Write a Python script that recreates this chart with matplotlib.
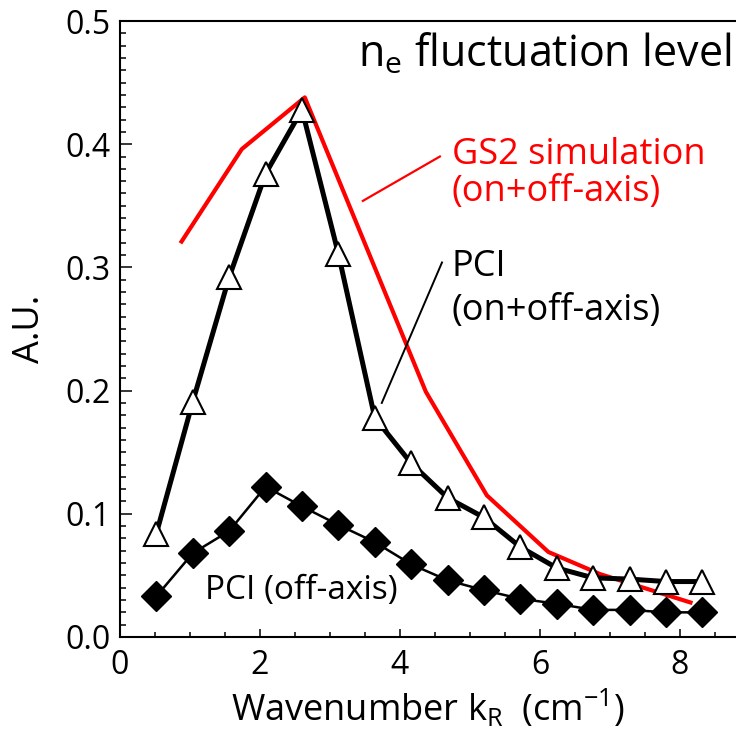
import matplotlib
matplotlib.use("Agg")
import matplotlib.pyplot as plt
from matplotlib.ticker import MultipleLocator, FormatStrFormatter

# PCI wavenumber channels (cm^-1)
k_pci = [0.52, 1.04, 1.56, 2.08, 2.60, 3.12, 3.64, 4.16,
         4.68, 5.20, 5.72, 6.24, 6.76, 7.28, 7.80, 8.32]
# on+off-axis spectrum
amp_on_off = [0.084, 0.191, 0.292, 0.376, 0.428, 0.311, 0.178, 0.141,
              0.113, 0.097, 0.073, 0.056, 0.048, 0.047, 0.045, 0.045]
# off-axis spectrum
amp_off = [0.033, 0.068, 0.086, 0.122, 0.106, 0.091, 0.077, 0.059,
           0.046, 0.038, 0.031, 0.027, 0.022, 0.022, 0.020, 0.020]
# GS2 synthetic spectrum
k_gs2 = [0.88, 1.74, 2.64, 4.37, 5.24, 6.12, 6.86, 8.15]
amp_gs2 = [0.321, 0.396, 0.438, 0.199, 0.115, 0.069, 0.051, 0.028]

plt.rcParams['font.family'] = ['Open Sans', 'DejaVu Sans']
plt.rcParams['mathtext.fontset'] = 'custom'
plt.rcParams['mathtext.rm'] = 'Open Sans'
plt.rcParams['mathtext.it'] = 'Open Sans'

fig = plt.figure(figsize=(7.36, 7.37), dpi=100)
ax = fig.add_axes([0.163, 0.1357, 0.837, 0.8358])

ax.plot(k_gs2, amp_gs2, color='#ff0000', lw=3.0, zorder=2)
ax.plot(k_pci, amp_on_off, color='black', lw=3.6, marker='^', ms=17,
        mfc='white', mec='black', mew=1.5, zorder=3)
ax.plot(k_pci, amp_off, color='black', lw=1.8, marker='D', ms=15.5,
        mfc='black', mec='black', zorder=3)

ax.set_xlim(0, 8.8)
ax.set_ylim(0, 0.5)
ax.xaxis.set_major_locator(MultipleLocator(2))
ax.xaxis.set_minor_locator(MultipleLocator(0.5))
ax.yaxis.set_major_locator(MultipleLocator(0.1))
ax.yaxis.set_minor_locator(MultipleLocator(0.01))
ax.yaxis.set_major_formatter(FormatStrFormatter('%.1f'))

ax.tick_params(axis='both', which='both', direction='in', width=1.1,
               labelsize=23, top=False, right=False)
ax.tick_params(axis='y', which='major', length=8.6, pad=7)
ax.tick_params(axis='y', which='minor', length=4.3)
ax.tick_params(axis='x', which='major', length=6, pad=9)
ax.tick_params(axis='x', which='minor', length=3.6)
for side in ['left', 'bottom', 'top']:
    ax.spines[side].set_linewidth(1.5)
ax.spines['right'].set_visible(False)

ax.set_ylabel('A.U.', fontsize=26, labelpad=12)
ax.set_xlabel(r'Wavenumber k$_\mathregular{R}$  (cm$^\mathregular{-1}$)',
              fontsize=26, labelpad=4)

ax.text(3.40, 0.4626, r'n$_\mathregular{e}$ fluctuation level', fontsize=31,
        ha='left', va='baseline')

# annotations with leader lines
ax.plot([3.47, 4.57], [0.354, 0.390], color='#ff0000', lw=1.6)
ax.text(4.74, 0.384, 'GS2 simulation', color='#ff0000', fontsize=26,
        ha='left', va='baseline')
ax.text(4.74, 0.354, '(on+off-axis)', color='#ff0000', fontsize=26,
        ha='left', va='baseline')

ax.plot([3.74, 4.60], [0.190, 0.304], color='black', lw=1.4)
ax.text(4.74, 0.293, 'PCI', fontsize=26, ha='left', va='baseline')
ax.text(4.74, 0.257, '(on+off-axis)', fontsize=26, ha='left', va='baseline')

ax.text(1.21, 0.031, 'PCI (off-axis)', fontsize=24, ha='left',
        va='baseline')

fig.savefig('out.png', dpi=100)
